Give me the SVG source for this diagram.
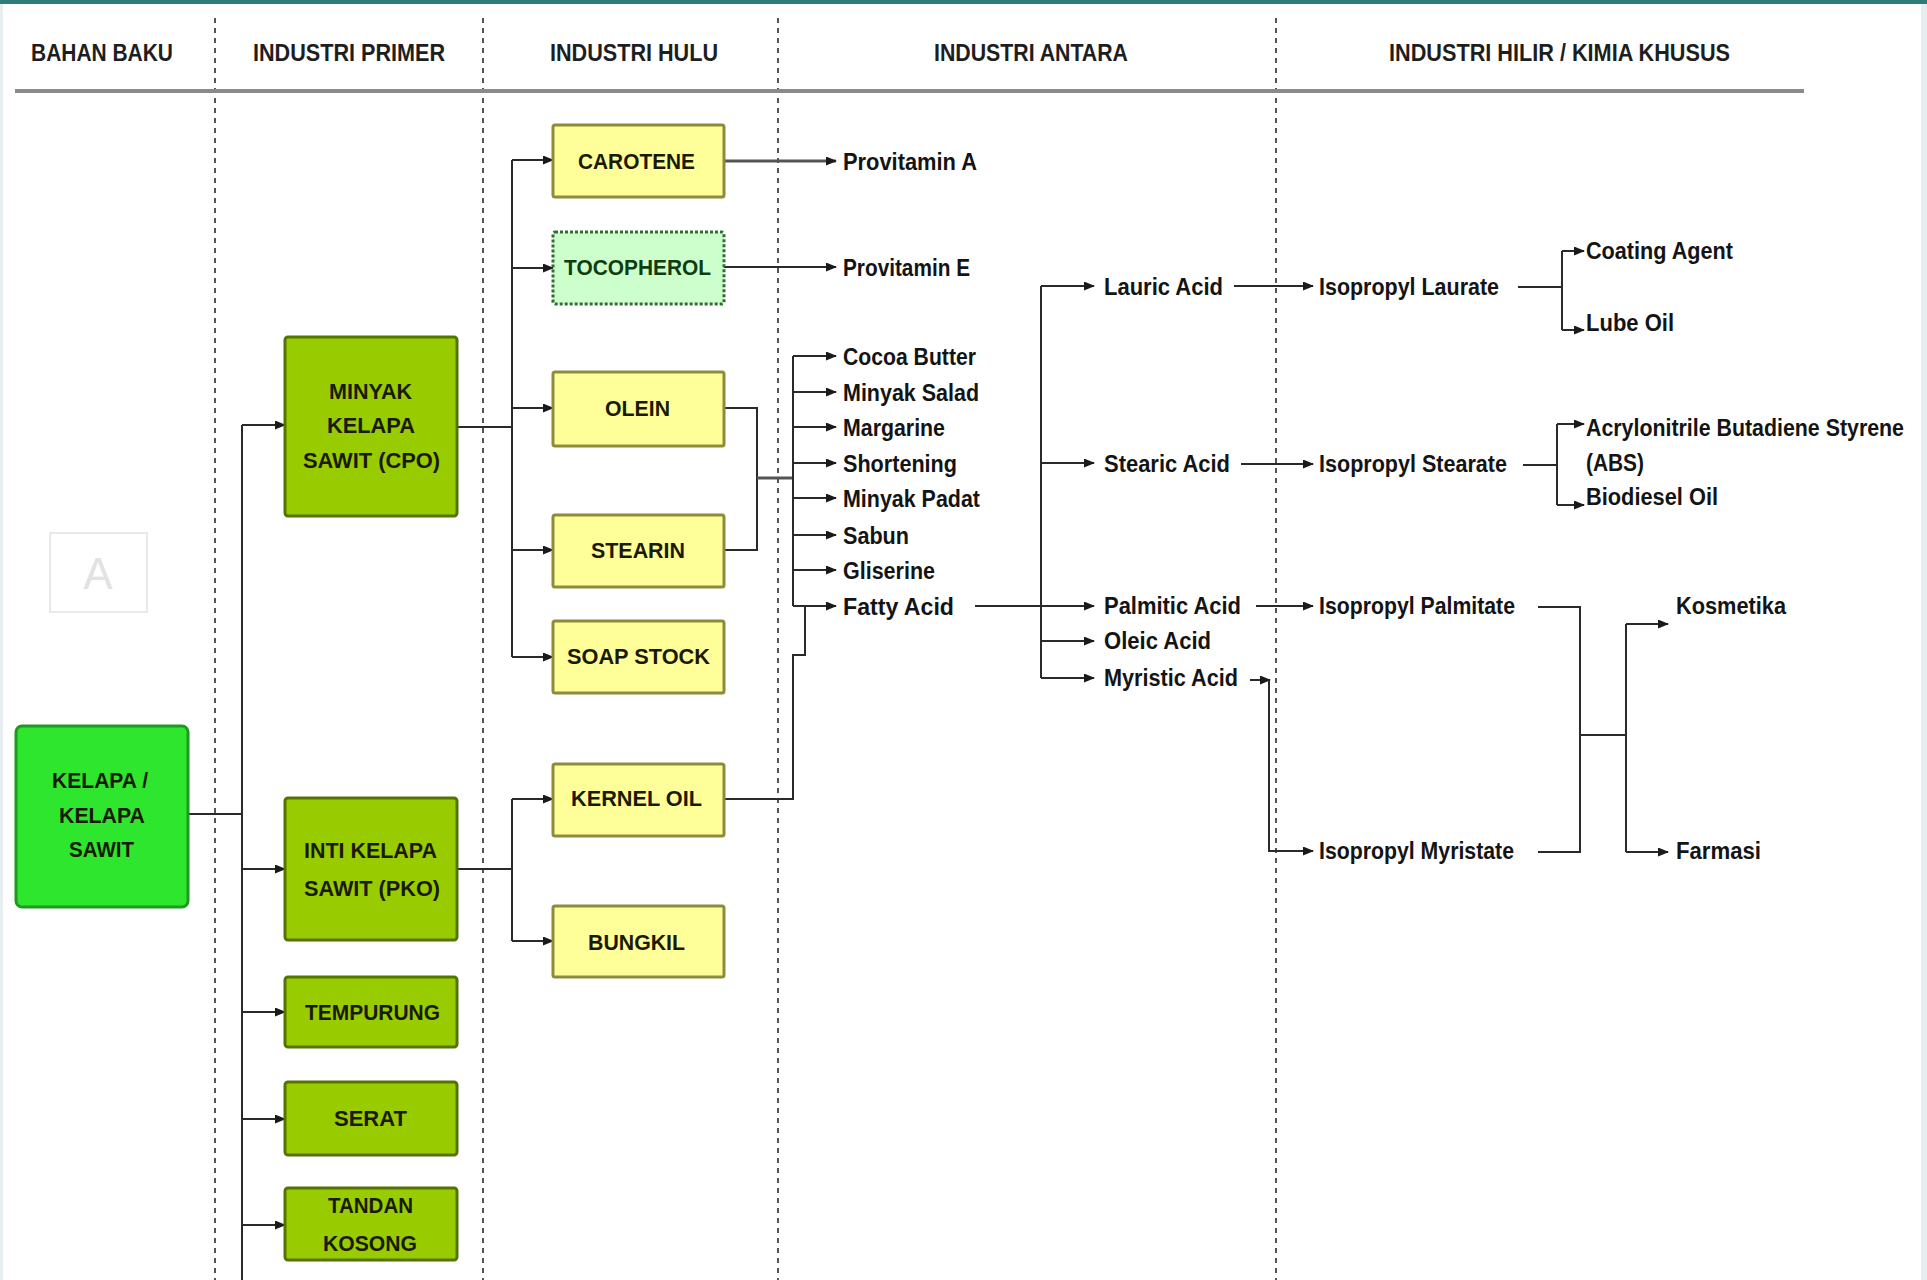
<svg xmlns="http://www.w3.org/2000/svg" width="1927" height="1280" viewBox="0 0 1927 1280">
<style>
.hdr{font-family:"Liberation Sans",Arial,sans-serif;font-weight:bold;font-size:24px;fill:#1e1e1e}
.t{font-family:"Liberation Sans",Arial,sans-serif;font-weight:bold;font-size:23px;fill:#141414}
.nt{font-family:"Liberation Sans",Arial,sans-serif;font-weight:bold;font-size:22px;fill:#1a1a00}
.sep{stroke:#555;stroke-width:2;stroke-dasharray:5 5;fill:none}
.c{stroke:#2a2a2a;stroke-width:2;fill:none}
.ca{stroke:#2a2a2a;stroke-width:2;fill:none;marker-end:url(#ah)}
.raw{fill:#2ee62e;stroke:#1f9a1f;stroke-width:3}
.pri{fill:#99cc00;stroke:#557300;stroke-width:3}
.hulu{fill:#ffff99;stroke:#8c8c3c;stroke-width:3}
.toco{fill:#ccffcc;stroke:#2f6f2f;stroke-width:3;stroke-dasharray:3 2}
</style>
<defs>
<marker id="ah" markerUnits="userSpaceOnUse" markerWidth="11" markerHeight="9" refX="10" refY="4.5" orient="auto">
<path d="M0,0 L11,4.5 L0,9 z" fill="#1a1a1a"/>
</marker>
</defs>
<rect x="0" y="0" width="1927" height="1280" fill="#ffffff"/>
<rect x="0" y="0" width="1927" height="4" fill="#2e7b78"/>
<rect x="0" y="4" width="3" height="1276" fill="#e6eef0"/>
<rect x="1921" y="4" width="6" height="1276" fill="#e6eef0"/>

<g id="separators">
<line class="sep" x1="215" y1="18" x2="215" y2="1280"/>
<line class="sep" x1="483" y1="18" x2="483" y2="1280"/>
<line class="sep" x1="778" y1="18" x2="778" y2="1280"/>
<line class="sep" x1="1276" y1="18" x2="1276" y2="1280"/>
</g>

<g id="header">
<line x1="15" y1="91" x2="1804" y2="91" stroke="#8a8a8a" stroke-width="4"/>
<text class="hdr" x="31" y="61" textLength="142" lengthAdjust="spacingAndGlyphs">BAHAN BAKU</text>
<text class="hdr" x="253" y="61" textLength="192" lengthAdjust="spacingAndGlyphs">INDUSTRI PRIMER</text>
<text class="hdr" x="550" y="61" textLength="168" lengthAdjust="spacingAndGlyphs">INDUSTRI HULU</text>
<text class="hdr" x="934" y="61" textLength="194" lengthAdjust="spacingAndGlyphs">INDUSTRI ANTARA</text>
<text class="hdr" x="1389" y="61" textLength="341" lengthAdjust="spacingAndGlyphs">INDUSTRI HILIR / KIMIA KHUSUS</text>
</g>

<g id="watermark">
<rect x="50" y="533" width="97" height="79" fill="none" stroke="#e2e2e2" stroke-width="1.5"/>
<text x="98" y="589" text-anchor="middle" font-family="Liberation Sans, Arial, sans-serif" font-size="44" fill="#e2e2e2">A</text>
</g>

<g id="connectors">
<line class="c" x1="188" y1="814" x2="242" y2="814"/>
<line class="c" x1="242" y1="425" x2="242" y2="1280"/>
<line class="ca" x1="242" y1="425" x2="285" y2="425"/>
<line class="ca" x1="242" y1="869" x2="285" y2="869"/>
<line class="ca" x1="242" y1="1012" x2="285" y2="1012"/>
<line class="ca" x1="242" y1="1119" x2="285" y2="1119"/>
<line class="ca" x1="242" y1="1225" x2="285" y2="1225"/>
<line class="c" x1="457" y1="427" x2="512" y2="427"/>
<line class="c" x1="512" y1="160" x2="512" y2="657"/>
<line class="ca" x1="512" y1="160" x2="553" y2="160"/>
<line class="ca" x1="512" y1="268" x2="553" y2="268"/>
<line class="ca" x1="512" y1="408" x2="553" y2="408"/>
<line class="ca" x1="512" y1="550" x2="553" y2="550"/>
<line class="ca" x1="512" y1="657" x2="553" y2="657"/>
<line class="c" x1="457" y1="869" x2="512" y2="869"/>
<line class="c" x1="512" y1="799" x2="512" y2="941"/>
<line class="ca" x1="512" y1="799" x2="553" y2="799"/>
<line class="ca" x1="512" y1="941" x2="553" y2="941"/>
<line class="ca" x1="724" y1="161" x2="836" y2="161" style="stroke-width:3;stroke:#555"/>
<line class="ca" x1="724" y1="267" x2="836" y2="267"/>
<path class="c" d="M724,408 H757 V550 H724"/>
<line class="c" x1="757" y1="478" x2="793" y2="478" style="stroke-width:3;stroke:#555"/>
<line class="c" x1="793" y1="356" x2="793" y2="606"/>
<line class="ca" x1="793" y1="356" x2="836" y2="356"/>
<line class="ca" x1="793" y1="392" x2="836" y2="392"/>
<line class="ca" x1="793" y1="427" x2="836" y2="427"/>
<line class="ca" x1="793" y1="463" x2="836" y2="463"/>
<line class="ca" x1="793" y1="498" x2="836" y2="498"/>
<line class="ca" x1="793" y1="535" x2="836" y2="535"/>
<line class="ca" x1="793" y1="570" x2="836" y2="570"/>
<line class="ca" x1="793" y1="606" x2="836" y2="606"/>
<path class="c" d="M724,799 H793 V655 H805 V606"/>
<line class="ca" x1="975" y1="606" x2="1094" y2="606"/>
<line class="c" x1="1041" y1="286" x2="1041" y2="678"/>
<line class="ca" x1="1041" y1="286" x2="1094" y2="286"/>
<line class="ca" x1="1041" y1="463" x2="1094" y2="463"/>
<line class="ca" x1="1041" y1="641" x2="1094" y2="641"/>
<line class="ca" x1="1041" y1="678" x2="1094" y2="678"/>
<line class="ca" x1="1234" y1="286" x2="1313" y2="286"/>
<line class="ca" x1="1241" y1="464" x2="1313" y2="464"/>
<line class="ca" x1="1256" y1="606" x2="1313" y2="606"/>
<line class="ca" x1="1250" y1="680" x2="1270" y2="680"/>
<path class="ca" d="M1269,680 V851 H1313"/>
<line class="c" x1="1518" y1="287" x2="1562" y2="287"/>
<line class="c" x1="1562" y1="251" x2="1562" y2="330"/>
<line class="ca" x1="1562" y1="251" x2="1584" y2="251"/>
<line class="ca" x1="1562" y1="330" x2="1584" y2="330"/>
<line class="c" x1="1523" y1="465" x2="1557" y2="465"/>
<line class="c" x1="1557" y1="424" x2="1557" y2="505"/>
<line class="ca" x1="1557" y1="424" x2="1584" y2="424"/>
<line class="ca" x1="1557" y1="505" x2="1584" y2="505"/>
<path class="c" d="M1538,607 H1580 V852 H1538"/>
<line class="c" x1="1580" y1="735" x2="1626" y2="735"/>
<line class="c" x1="1626" y1="624" x2="1626" y2="852"/>
<line class="ca" x1="1626" y1="624" x2="1668" y2="624"/>
<line class="ca" x1="1626" y1="852" x2="1668" y2="852"/>
</g>

<g id="n-kelapa">
<rect class="raw" x="16" y="726" width="172" height="181" rx="6"/>
<text class="nt" x="52" y="788" textLength="96" lengthAdjust="spacingAndGlyphs">KELAPA /</text>
<text class="nt" x="59" y="823" textLength="86" lengthAdjust="spacingAndGlyphs">KELAPA</text>
<text class="nt" x="69" y="857" textLength="65" lengthAdjust="spacingAndGlyphs">SAWIT</text>
</g>

<g id="n-cpo">
<rect class="pri" x="285" y="337" width="172" height="179" rx="3"/>
<text class="nt" x="329" y="399" textLength="83" lengthAdjust="spacingAndGlyphs">MINYAK</text>
<text class="nt" x="327" y="433" textLength="88" lengthAdjust="spacingAndGlyphs">KELAPA</text>
<text class="nt" x="303" y="468" textLength="137" lengthAdjust="spacingAndGlyphs">SAWIT (CPO)</text>
</g>
<g id="n-pko">
<rect class="pri" x="285" y="798" width="172" height="142" rx="3"/>
<text class="nt" x="304" y="858" textLength="133" lengthAdjust="spacingAndGlyphs">INTI KELAPA</text>
<text class="nt" x="304" y="896" textLength="136" lengthAdjust="spacingAndGlyphs">SAWIT (PKO)</text>
</g>
<g id="n-tempurung">
<rect class="pri" x="285" y="977" width="172" height="70" rx="3"/>
<text class="nt" x="305" y="1020" textLength="135" lengthAdjust="spacingAndGlyphs">TEMPURUNG</text>
</g>
<g id="n-serat">
<rect class="pri" x="285" y="1082" width="172" height="73" rx="3"/>
<text class="nt" x="334" y="1126" textLength="73" lengthAdjust="spacingAndGlyphs">SERAT</text>
</g>
<g id="n-tandan">
<rect class="pri" x="285" y="1188" width="172" height="72" rx="3"/>
<text class="nt" x="328" y="1213" textLength="85" lengthAdjust="spacingAndGlyphs">TANDAN</text>
<text class="nt" x="323" y="1251" textLength="94" lengthAdjust="spacingAndGlyphs">KOSONG</text>
</g>

<g id="n-carotene">
<rect class="hulu" x="553" y="125" width="171" height="72" rx="2"/>
<text class="nt" x="578" y="169" textLength="117" lengthAdjust="spacingAndGlyphs">CAROTENE</text>
</g>
<g id="n-tocopherol">
<rect class="toco" x="553" y="232" width="171" height="72" rx="2"/>
<text class="nt" x="564" y="275" textLength="147" lengthAdjust="spacingAndGlyphs" style="fill:#0f3d0f">TOCOPHEROL</text>
</g>
<g id="n-olein">
<rect class="hulu" x="553" y="372" width="171" height="74" rx="2"/>
<text class="nt" x="605" y="416" textLength="65" lengthAdjust="spacingAndGlyphs">OLEIN</text>
</g>
<g id="n-stearin">
<rect class="hulu" x="553" y="515" width="171" height="72" rx="2"/>
<text class="nt" x="591" y="558" textLength="94" lengthAdjust="spacingAndGlyphs">STEARIN</text>
</g>
<g id="n-soapstock">
<rect class="hulu" x="553" y="621" width="171" height="72" rx="2"/>
<text class="nt" x="567" y="664" textLength="143" lengthAdjust="spacingAndGlyphs">SOAP STOCK</text>
</g>
<g id="n-kerneloil">
<rect class="hulu" x="553" y="764" width="171" height="72" rx="2"/>
<text class="nt" x="571" y="806" textLength="131" lengthAdjust="spacingAndGlyphs">KERNEL OIL</text>
</g>
<g id="n-bungkil">
<rect class="hulu" x="553" y="906" width="171" height="71" rx="2"/>
<text class="nt" x="588" y="950" textLength="97" lengthAdjust="spacingAndGlyphs">BUNGKIL</text>
</g>

<g id="products">
<text class="t" x="843" y="170" textLength="134" lengthAdjust="spacingAndGlyphs">Provitamin A</text>
<text class="t" x="843" y="276" textLength="127" lengthAdjust="spacingAndGlyphs">Provitamin E</text>
<text class="t" x="843" y="365" textLength="133" lengthAdjust="spacingAndGlyphs">Cocoa Butter</text>
<text class="t" x="843" y="401" textLength="136" lengthAdjust="spacingAndGlyphs">Minyak Salad</text>
<text class="t" x="843" y="436" textLength="102" lengthAdjust="spacingAndGlyphs">Margarine</text>
<text class="t" x="843" y="472" textLength="114" lengthAdjust="spacingAndGlyphs">Shortening</text>
<text class="t" x="843" y="507" textLength="137" lengthAdjust="spacingAndGlyphs">Minyak Padat</text>
<text class="t" x="843" y="544" textLength="66" lengthAdjust="spacingAndGlyphs">Sabun</text>
<text class="t" x="843" y="579" textLength="92" lengthAdjust="spacingAndGlyphs">Gliserine</text>
<text class="t" x="843" y="615" textLength="111" lengthAdjust="spacingAndGlyphs">Fatty Acid</text>

<text class="t" x="1104" y="295" textLength="119" lengthAdjust="spacingAndGlyphs">Lauric Acid</text>
<text class="t" x="1104" y="472" textLength="126" lengthAdjust="spacingAndGlyphs">Stearic Acid</text>
<text class="t" x="1104" y="614" textLength="137" lengthAdjust="spacingAndGlyphs">Palmitic Acid</text>
<text class="t" x="1104" y="649" textLength="107" lengthAdjust="spacingAndGlyphs">Oleic Acid</text>
<text class="t" x="1104" y="686" textLength="134" lengthAdjust="spacingAndGlyphs">Myristic Acid</text>

<text class="t" x="1319" y="295" textLength="180" lengthAdjust="spacingAndGlyphs">Isopropyl Laurate</text>
<text class="t" x="1319" y="472" textLength="188" lengthAdjust="spacingAndGlyphs">Isopropyl Stearate</text>
<text class="t" x="1319" y="614" textLength="196" lengthAdjust="spacingAndGlyphs">Isopropyl Palmitate</text>
<text class="t" x="1319" y="859" textLength="195" lengthAdjust="spacingAndGlyphs">Isopropyl Myristate</text>

<text class="t" x="1586" y="259" textLength="147" lengthAdjust="spacingAndGlyphs">Coating Agent</text>
<text class="t" x="1586" y="331" textLength="88" lengthAdjust="spacingAndGlyphs">Lube Oil</text>
<text class="t" x="1586" y="436" textLength="318" lengthAdjust="spacingAndGlyphs">Acrylonitrile Butadiene Styrene</text>
<text class="t" x="1586" y="471" textLength="58" lengthAdjust="spacingAndGlyphs">(ABS)</text>
<text class="t" x="1586" y="505" textLength="132" lengthAdjust="spacingAndGlyphs">Biodiesel Oil</text>
<text class="t" x="1676" y="614" textLength="110" lengthAdjust="spacingAndGlyphs">Kosmetika</text>
<text class="t" x="1676" y="859" textLength="85" lengthAdjust="spacingAndGlyphs">Farmasi</text>
</g>
</svg>
